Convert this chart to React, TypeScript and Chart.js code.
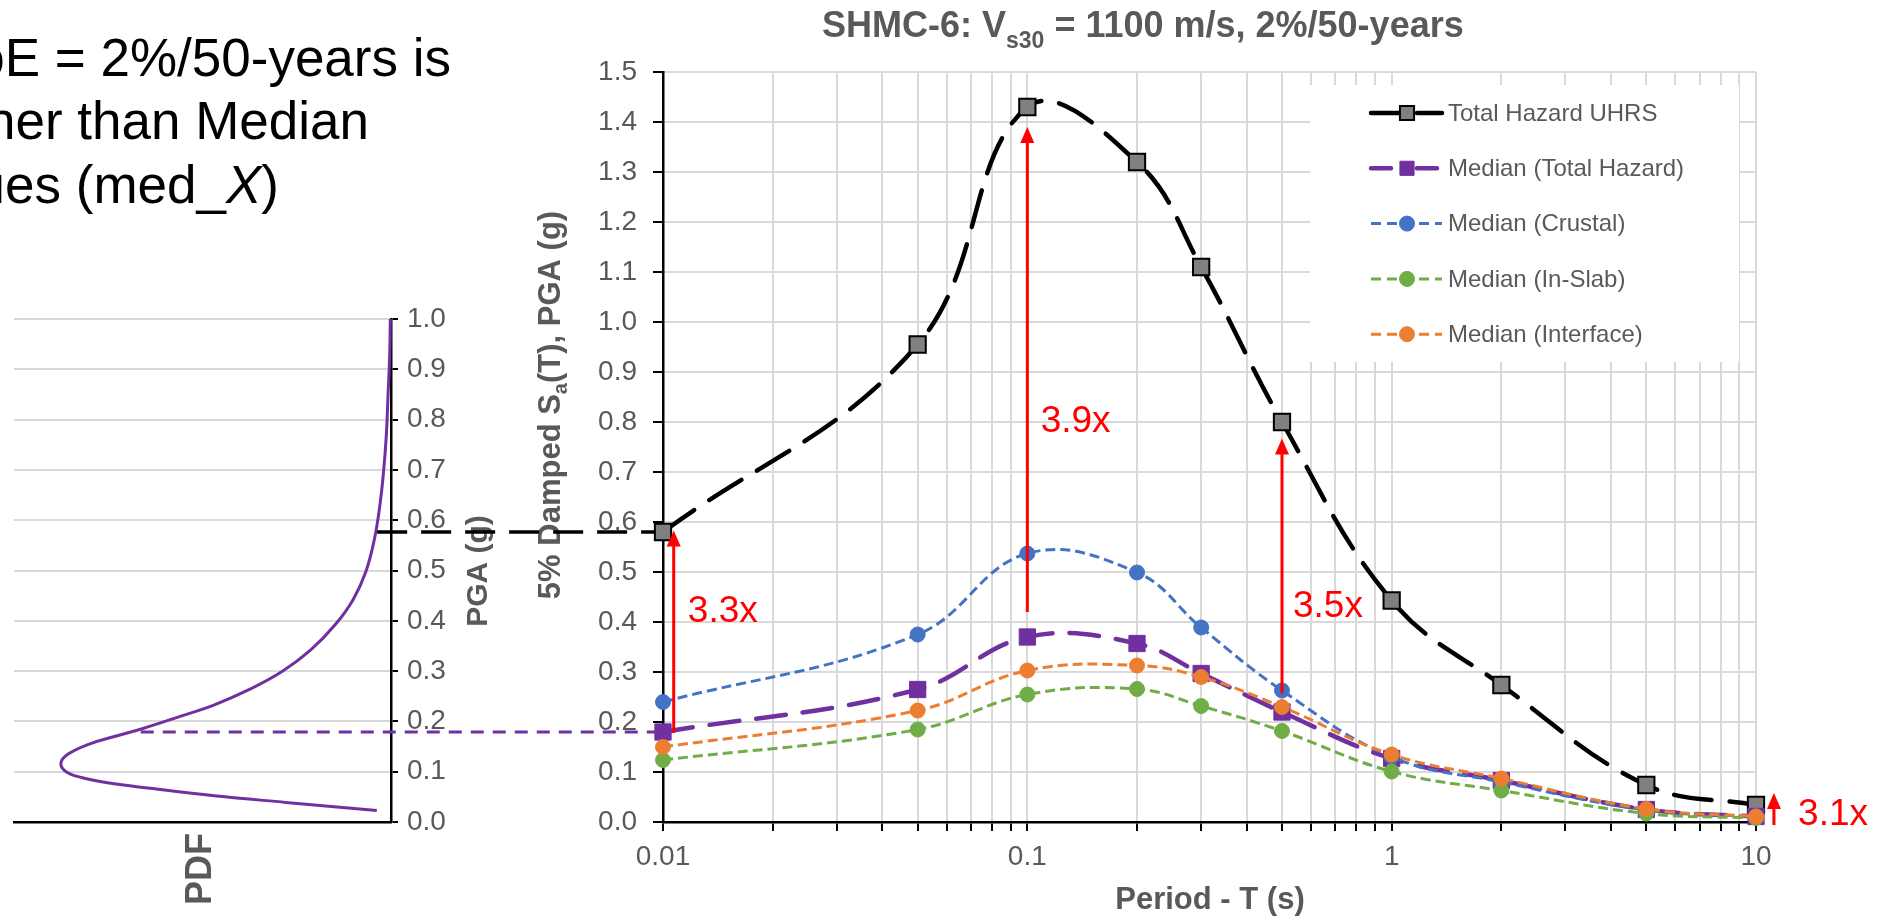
import React, { useEffect, useRef } from 'react';
import { Chart, registerables } from 'chart.js';

Chart.register(...registerables);

const W = 1893;
const H = 918;
const FONT = "'Liberation Sans', Arial, sans-serif";
const TEXT_GRAY = '#595959';
const GRID_GRAY = '#d9d9d9';

// ---------- data ----------
const periods = [0.01, 0.05, 0.1, 0.2, 0.3, 0.5, 1, 2, 5, 10];
const totalHazardUHRS = [0.58, 0.955, 1.43, 1.32, 1.11, 0.8, 0.443, 0.274, 0.074, 0.034];
const medianTotalHazard = [0.18, 0.265, 0.37, 0.357, 0.297, 0.22, 0.127, 0.083, 0.025, 0.011];
const medianCrustal = [0.24, 0.375, 0.537, 0.499, 0.389, 0.263, 0.13, 0.08, 0.024, 0.011];
const medianInSlab = [0.124, 0.185, 0.255, 0.266, 0.232, 0.182, 0.101, 0.063, 0.017, 0.008];
const medianInterface = [0.15, 0.223, 0.303, 0.313, 0.29, 0.23, 0.135, 0.087, 0.026, 0.011];

const seriesLabels = [
  'Total Hazard UHRS',
  'Median (Total Hazard)',
  'Median (Crustal)',
  'Median (In-Slab)',
  'Median (Interface)',
];

const xTickValues = [
  0.01, 0.02, 0.03, 0.04, 0.05, 0.06, 0.07, 0.08, 0.09,
  0.1, 0.2, 0.3, 0.4, 0.5, 0.6, 0.7, 0.8, 0.9,
  1, 2, 3, 4, 5, 6, 7, 8, 9, 10,
];
const xTickLabels = ['0.01', '0.1', '1', '10'];

// PDF of PGA (left panel), relative density
const pdfPGA = [
  0.023, 0.039, 0.052, 0.067, 0.078, 0.088, 0.1, 0.117, 0.135, 0.155, 0.17, 0.186, 0.209,
  0.233, 0.264, 0.299, 0.342, 0.393, 0.443, 0.498, 0.56, 0.623, 0.693, 0.771, 0.849, 0.927, 1.0,
];
const pdfDensity = [
  0.043, 0.319, 0.535, 0.73, 0.859, 0.935, 0.984, 1.0, 0.978, 0.914, 0.838, 0.751, 0.643,
  0.535, 0.427, 0.33, 0.243, 0.168, 0.114, 0.076, 0.051, 0.035, 0.023, 0.014, 0.009, 0.004, 0.002,
];

// connectors from PDF curve to the spectra at T = 0.01
const connectorPGA = [0.58, 0.18];
const connectorPDF = [0.042, 0.758];

// ratio annotations
const ratioArrowT = [0.0107, 0.1, 0.5, 11.2];
const ratioArrowFrom = [0.178, 0.42, 0.257, -0.006];
const ratioArrowTo = [0.583, 1.39, 0.767, 0.058];
const ratioLabels = ['3.3x', '3.9x', '3.5x', '3.1x'];
const ratioLabelT = [0.0117, 0.1088, 0.536, 13.05];
const ratioLabelY = [0.4, 0.78, 0.41, -0.006];

// ---------- helpers ----------
type Seg = { text: string; font: string; dy?: number };

function drawRich(
  ctx: CanvasRenderingContext2D,
  segs: Seg[],
  x: number,
  y: number,
  rotation: number,
  align: 'left' | 'center' | 'right',
  color: string
) {
  ctx.save();
  ctx.translate(x, y);
  ctx.rotate(rotation);
  ctx.fillStyle = color;
  ctx.textBaseline = 'alphabetic';
  ctx.textAlign = 'left';
  let total = 0;
  const widths = segs.map((s) => {
    ctx.font = s.font;
    const w = ctx.measureText(s.text).width;
    total += w;
    return w;
  });
  let cx = align === 'center' ? -total / 2 : align === 'right' ? -total : 0;
  segs.forEach((s, i) => {
    ctx.font = s.font;
    ctx.fillText(s.text, cx, s.dy || 0);
    cx += widths[i];
  });
  ctx.restore();
}

function drawMarker(
  ctx: CanvasRenderingContext2D,
  style: string,
  x: number,
  y: number,
  r: number,
  fill: string,
  stroke: string,
  bw: number
) {
  ctx.beginPath();
  if (style === 'rect') {
    const s = r * Math.SQRT1_2;
    ctx.rect(x - s, y - s, 2 * s, 2 * s);
  } else {
    ctx.arc(x, y, r, 0, Math.PI * 2);
  }
  ctx.fillStyle = fill;
  ctx.fill();
  if (bw) {
    ctx.lineWidth = bw;
    ctx.strokeStyle = stroke;
    ctx.stroke();
  }
}

const pts = (vals: number[]) => periods.map((t, i) => ({ x: t, y: vals[i] }));

export default function App() {
  const smallRef = useRef<HTMLCanvasElement>(null);
  const mainRef = useRef<HTMLCanvasElement>(null);

  useEffect(() => {
    const sc = smallRef.current!;
    const mc = mainRef.current!;

    // ---------- left PDF panel ----------
    const smallPlugin = {
      id: 'smallDecor',
      afterDraw(chart: any) {
        const ctx = chart.ctx as CanvasRenderingContext2D;
        drawRich(ctx, [{ text: 'PGA (g)', font: `bold 30px ${FONT}` }], 487, 571, -Math.PI / 2, 'center', TEXT_GRAY);
        drawRich(ctx, [{ text: 'PDF', font: `bold 36px ${FONT}` }], 211, 869, -Math.PI / 2, 'center', TEXT_GRAY);
      },
    };

    const small = new Chart(sc, {
      type: 'line',
      data: {
        datasets: [
          {
            label: 'PDF',
            data: pdfPGA.map((p, i) => ({ x: pdfDensity[i], y: p })),
            borderColor: '#7030A0',
            borderWidth: 3,
            pointRadius: 0,
            tension: 0.4,
            clip: false as any,
          },
        ],
      },
      options: {
        responsive: false,
        animation: false,
        devicePixelRatio: 1,
        events: [],
        layout: { padding: { left: 14, top: 319, right: W - 391 - 100, bottom: H - 822 } },
        plugins: { legend: { display: false }, tooltip: { enabled: false } },
        scales: {
          x: {
            type: 'linear',
            reverse: true,
            min: 0,
            max: 1.142,
            ticks: { display: false },
            grid: { display: false, drawTicks: false },
            border: { display: true, color: '#000', width: 2.5 },
            afterFit: (s: any) => {
              s.height = 0;
            },
          },
          y: {
            position: 'right',
            min: 0,
            max: 1,
            ticks: {
              stepSize: 0.1,
              padding: 9,
              color: TEXT_GRAY,
              font: { family: FONT, size: 28 },
              callback: (v: any) => Number(v).toFixed(1),
            },
            grid: { color: GRID_GRAY, lineWidth: 2, tickColor: '#000', tickWidth: 2, tickLength: 7 },
            border: { color: '#000', width: 2.5 },
            afterFit: (s: any) => {
              s.width = 100;
            },
          },
        },
      },
      plugins: [smallPlugin],
    } as any);

    // ---------- main spectra chart ----------
    const decor = {
      id: 'decor',
      beforeDatasetsDraw(chart: any) {
        const ctx = chart.ctx as CanvasRenderingContext2D;
        // y-axis title
        drawRich(
          ctx,
          [
            { text: '5% Damped S', font: `bold 31px ${FONT}` },
            { text: 'a', font: `bold 20px ${FONT}`, dy: 7 },
            { text: '(T), PGA (g)', font: `bold 31px ${FONT}` },
          ],
          560,
          405,
          -Math.PI / 2,
          'center',
          TEXT_GRAY
        );
        // connectors
        const xs = chart.scales.x;
        const ys = chart.scales.y;
        const sx = small.scales.x;
        const endX = xs.getPixelForValue(periods[0]);
        const styles = [
          { color: '#000', width: 3.5, dash: [30, 14] },
          { color: '#7030A0', width: 3, dash: [13, 9] },
        ];
        connectorPGA.forEach((v, i) => {
          const y = ys.getPixelForValue(v);
          const x0 = sx.getPixelForValue(connectorPDF[i]);
          ctx.save();
          ctx.strokeStyle = styles[i].color;
          ctx.lineWidth = styles[i].width;
          ctx.setLineDash(styles[i].dash);
          ctx.beginPath();
          ctx.moveTo(x0, y);
          ctx.lineTo(endX, y);
          ctx.stroke();
          ctx.restore();
        });
      },
      afterDatasetsDraw(chart: any) {
        const ctx = chart.ctx as CanvasRenderingContext2D;
        const xs = chart.scales.x;
        const ys = chart.scales.y;
        // ratio arrows
        ctx.save();
        ctx.strokeStyle = '#FF0000';
        ctx.fillStyle = '#FF0000';
        ratioArrowT.forEach((t, i) => {
          const x = xs.getPixelForValue(t);
          const y0 = ys.getPixelForValue(ratioArrowFrom[i]);
          const y1 = ys.getPixelForValue(ratioArrowTo[i]);
          ctx.lineWidth = 3;
          ctx.beginPath();
          ctx.moveTo(x, y0);
          ctx.lineTo(x, y1 + 12);
          ctx.stroke();
          ctx.beginPath();
          ctx.moveTo(x, y1);
          ctx.lineTo(x - 7, y1 + 16);
          ctx.lineTo(x + 7, y1 + 16);
          ctx.closePath();
          ctx.fill();
          ctx.font = `37px ${FONT}`;
          ctx.textAlign = 'left';
          ctx.textBaseline = 'alphabetic';
          ctx.fillText(ratioLabels[i], xs.getPixelForValue(ratioLabelT[i]), ys.getPixelForValue(ratioLabelY[i]));
        });
        ctx.restore();

        // legend
        ctx.save();
        ctx.fillStyle = '#fff';
        ctx.fillRect(1310, 85, 429, 277);
        chart.data.datasets.forEach((ds: any, i: number) => {
          const y = 113 + i * 55.3;
          ctx.save();
          ctx.strokeStyle = ds.borderColor;
          ctx.lineWidth = ds.borderWidth;
          ctx.lineCap = ds.borderCapStyle || 'butt';
          ctx.setLineDash(ds.legendDash);
          ctx.beginPath();
          ctx.moveTo(1371, y);
          ctx.lineTo(1442, y);
          ctx.stroke();
          ctx.restore();
          drawMarker(
            ctx,
            ds.pointStyle,
            1407,
            y,
            ds.pointStyle === 'rect' ? 10 : 7.5,
            ds.pointBackgroundColor,
            ds.pointBorderColor,
            ds.pointBorderWidth
          );
          ctx.font = `24px ${FONT}`;
          ctx.fillStyle = TEXT_GRAY;
          ctx.textAlign = 'left';
          ctx.textBaseline = 'middle';
          ctx.fillText(ds.label, 1448, y + 1);
        });
        ctx.restore();
      },
      afterDraw(chart: any) {
        const ctx = chart.ctx as CanvasRenderingContext2D;
        // chart title
        drawRich(
          ctx,
          [
            { text: 'SHMC-6: V', font: `bold 36px ${FONT}` },
            { text: 's30', font: `bold 23px ${FONT}`, dy: 11 },
            { text: ' = 1100 m/s, 2%/50-years', font: `bold 36px ${FONT}` },
          ],
          822,
          37,
          0,
          'left',
          TEXT_GRAY
        );
        // x-axis title
        drawRich(ctx, [{ text: 'Period - T (s)', font: `bold 31px ${FONT}` }], 1210, 909, 0, 'center', TEXT_GRAY);
        // slide text (clipped at left edge)
        const f = `53px ${FONT}`;
        drawRich(ctx, [{ text: 'PoE = 2%/50-years is', font: f }], 451, 76, 0, 'right', '#000');
        drawRich(ctx, [{ text: 'higher than Median', font: f }], 369, 139, 0, 'right', '#000');
        drawRich(
          ctx,
          [
            { text: 'values (med_', font: f },
            { text: 'X', font: `italic 53px ${FONT}` },
            { text: ')', font: f },
          ],
          279,
          203,
          0,
          'right',
          '#000'
        );
      },
    };

    const main = new Chart(mc, {
      type: 'line',
      data: {
        datasets: [
          {
            label: seriesLabels[0],
            data: pts(totalHazardUHRS),
            borderColor: '#000',
            borderWidth: 4.5,
            borderDash: [38, 18],
            legendDash: [30, 16],
            borderCapStyle: 'round',
            pointStyle: 'rect',
            pointRadius: 11.5,
            pointBackgroundColor: '#808080',
            pointBorderColor: '#000',
            pointBorderWidth: 2,
            tension: 0.4,
            order: 5,
            clip: false,
          },
          {
            label: seriesLabels[1],
            data: pts(medianTotalHazard),
            borderColor: '#7030A0',
            borderWidth: 4.5,
            borderDash: [30, 17],
            legendDash: [20, 26],
            borderCapStyle: 'round',
            pointStyle: 'rect',
            pointRadius: 11.5,
            pointBackgroundColor: '#7030A0',
            pointBorderColor: '#7030A0',
            pointBorderWidth: 1,
            tension: 0.4,
            order: 4,
            clip: false,
          },
          {
            label: seriesLabels[2],
            data: pts(medianCrustal),
            borderColor: '#4472C4',
            borderWidth: 3,
            borderDash: [10, 5],
            legendDash: [10, 6],
            pointStyle: 'circle',
            pointRadius: 7.5,
            pointBackgroundColor: '#4472C4',
            pointBorderColor: '#4472C4',
            pointBorderWidth: 1,
            tension: 0.4,
            order: 3,
            clip: false,
          },
          {
            label: seriesLabels[3],
            data: pts(medianInSlab),
            borderColor: '#70AD47',
            borderWidth: 3,
            borderDash: [10, 5],
            legendDash: [10, 6],
            pointStyle: 'circle',
            pointRadius: 7.5,
            pointBackgroundColor: '#70AD47',
            pointBorderColor: '#70AD47',
            pointBorderWidth: 1,
            tension: 0.4,
            order: 2,
            clip: false,
          },
          {
            label: seriesLabels[4],
            data: pts(medianInterface),
            borderColor: '#ED7D31',
            borderWidth: 3,
            borderDash: [10, 5],
            legendDash: [10, 6],
            pointStyle: 'circle',
            pointRadius: 7.5,
            pointBackgroundColor: '#ED7D31',
            pointBorderColor: '#ED7D31',
            pointBorderWidth: 1,
            tension: 0.4,
            order: 1,
            clip: false,
          },
        ],
      },
      options: {
        responsive: false,
        animation: false,
        devicePixelRatio: 1,
        events: [],
        layout: { padding: { left: 0, top: 72, right: W - 1756, bottom: 0 } },
        plugins: { legend: { display: false }, tooltip: { enabled: false }, title: { display: false } },
        scales: {
          x: {
            type: 'logarithmic',
            min: 0.01,
            max: 10,
            afterBuildTicks: (s: any) => {
              s.ticks = xTickValues.map((v) => ({ value: v }));
            },
            afterFit: (s: any) => {
              s.height = H - 822;
            },
            ticks: {
              autoSkip: false,
              maxRotation: 0,
              padding: 9,
              color: TEXT_GRAY,
              font: { family: FONT, size: 28 },
              callback: (v: any) => {
                const s = String(Number(v));
                return xTickLabels.includes(s) ? s : '';
              },
            },
            grid: { color: GRID_GRAY, lineWidth: 2, tickColor: '#000', tickWidth: 2, tickLength: 9 },
            border: { color: '#000', width: 2.5 },
          },
          y: {
            min: 0,
            max: 1.5,
            afterFit: (s: any) => {
              s.width = 663;
            },
            ticks: {
              stepSize: 0.1,
              padding: 16,
              color: TEXT_GRAY,
              font: { family: FONT, size: 28 },
              callback: (v: any) => Number(v).toFixed(1),
            },
            grid: { color: GRID_GRAY, lineWidth: 2, tickColor: '#000', tickWidth: 2, tickLength: 10 },
            border: { color: '#000', width: 2.5 },
          },
        },
      },
      plugins: [decor],
    } as any);

    return () => {
      main.destroy();
      small.destroy();
    };
  }, []);

  return (
    <div
      style={{
        position: 'fixed',
        left: 0,
        top: 0,
        width: W,
        height: H,
        overflow: 'hidden',
        background: '#fff',
      }}
    >
      <canvas ref={smallRef} width={W} height={H} style={{ position: 'absolute', left: 0, top: 0 }} />
      <canvas ref={mainRef} width={W} height={H} style={{ position: 'absolute', left: 0, top: 0 }} />
    </div>
  );
}
